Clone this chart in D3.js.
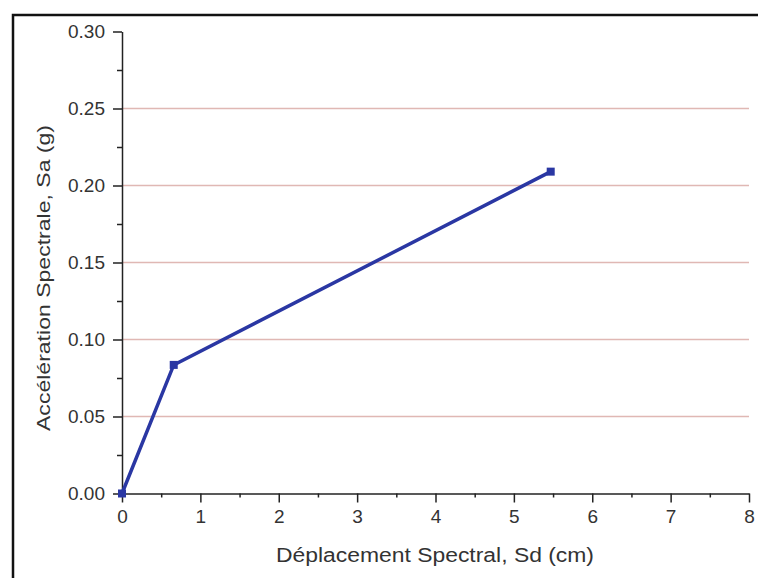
<!DOCTYPE html>
<html>
<head>
<meta charset="utf-8">
<script src="https://cdn.jsdelivr.net/npm/d3@7"></script>
<style>
body { margin: 0; background: #fff; }
</style>
</head>
<body>
<div id="chart"></div>
<script>
// spectre de capacite
var sd = [0, 0.66, 5.47]
var sa = [0, 0.0835, 0.209]
var xTicks = [0, 1, 2, 3, 4, 5, 6, 7, 8]
var yTicks = [0.00, 0.05, 0.10, 0.15, 0.20, 0.25, 0.30]
var gridVals = [0.05, 0.10, 0.15, 0.20, 0.25]

var W = 758, H = 578
var font = "Liberation Sans, Arial, sans-serif"
var svg = d3.select("#chart").append("svg")
    .attr("width", W).attr("height", H)

// cadre
svg.append("path")
    .attr("d", "M13,600 L13,15 L770,15")
    .attr("fill", "none").attr("stroke", "#111").attr("stroke-width", 2.5)

var x = d3.scaleLinear().domain([0, 8]).range([122, 749])
var y = d3.scaleLinear().domain([0, 0.30]).range([493.5, 31.5])

svg.append("g").selectAll("line").data(gridVals).enter().append("line")
    .attr("x1", x(0)).attr("x2", x(8))
    .attr("y1", d => y(d)).attr("y2", d => y(d))
    .attr("stroke", "#e0b8b4").attr("stroke-width", 1.3)

var fmt = d3.format(".2f")

// minor ticks
var gy = svg.append("g").attr("transform", "translate(" + x(0) + ",0)")
gy.call(d3.axisLeft(y).tickValues(d3.range(0.025, 0.3, 0.05)).tickSize(5).tickFormat(""))
gy.select(".domain").remove()
var gy2 = svg.append("g").attr("transform", "translate(" + x(0) + ",0)")
    .call(d3.axisLeft(y).tickValues(yTicks).tickSize(9).tickSizeOuter(0).tickFormat(fmt).tickPadding(8))

var gx = svg.append("g").attr("transform", "translate(0," + y(0) + ")")
gx.call(d3.axisBottom(x).tickValues(d3.range(0.5, 8, 1)).tickSize(4).tickFormat(""))
gx.select(".domain").remove()
var gx2 = svg.append("g").attr("transform", "translate(0," + y(0) + ")")
    .call(d3.axisBottom(x).tickValues(xTicks).tickSize(9).tickSizeOuter(0).tickPadding(7))

svg.selectAll(".tick line").attr("stroke", "#222").attr("stroke-width", 1.5)
svg.selectAll(".domain").attr("stroke", "#222").attr("stroke-width", 1.5)
svg.selectAll("g").attr("font-size", null).attr("font-family", null)
svg.selectAll(".tick text")
    .style("font-family", font)
    .style("font-size", "19px").attr("fill", "#333")

var pts = sd.map((d, i) => [d, sa[i]])
svg.append("path").datum(pts)
    .attr("d", d3.line().x(d => x(d[0])).y(d => y(d[1])))
    .attr("fill", "none").attr("stroke", "#2a37a3").attr("stroke-width", 3.5)
svg.selectAll(".pt").data(pts).enter().append("rect")
    .attr("class", "pt")
    .attr("x", d => x(d[0]) - 4).attr("y", d => y(d[1]) - 4)
    .attr("width", 8).attr("height", 8)
    .attr("fill", "#2a37a3")

svg.append("text")
    .attr("x", 435).attr("y", 562)
    .attr("text-anchor", "middle")
    .attr("textLength", 318).attr("lengthAdjust", "spacingAndGlyphs")
    .style("font-family", font)
    .style("font-size", "20px").attr("fill", "#333")
    .text("Déplacement Spectral, Sd (cm)")

svg.append("text")
    .attr("transform", "translate(50,278) rotate(-90)")
    .attr("text-anchor", "middle")
    .attr("textLength", 306).attr("lengthAdjust", "spacingAndGlyphs")
    .style("font-family", font)
    .style("font-size", "19px").attr("fill", "#333")
    .text("Accélération Spectrale, Sa (g)")
</script>
</body>
</html>
